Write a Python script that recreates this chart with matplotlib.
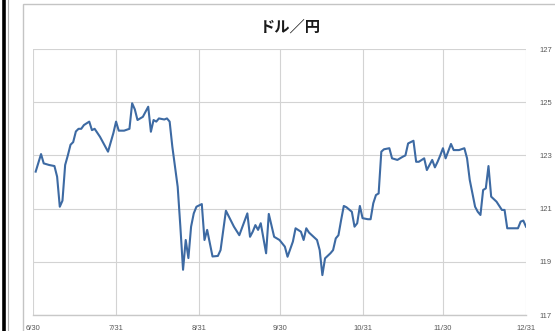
import numpy as np
import pandas as pd
import matplotlib
matplotlib.use("Agg")
import matplotlib.pyplot as plt
import matplotlib.dates as mdates
from matplotlib.lines import Line2D
from matplotlib.patches import Rectangle

plt.rcParams['font.family'] = ['Noto Sans CJK JP', 'DejaVu Sans']

# --- DATA ---
TITLE = "ドル／円"
START = "2015-06-30"
day_offsets = [1, 3, 4, 6, 8, 9, 10, 11, 12, 13, 14, 15, 16, 17, 18, 19, 21, 22, 23, 25,
               28, 30, 31, 32, 34, 36, 37, 38, 39, 41, 43, 44, 45, 46, 47, 49, 50, 51, 52, 54,
               55, 56, 57, 58, 59, 60, 61, 63, 64, 65, 67, 69, 70, 72, 75, 77, 80, 81, 82, 83,
               84, 85, 87, 88, 90, 92, 94, 95, 97, 98, 100, 101, 102, 103, 106, 107, 108, 109, 111, 112,
               113, 114, 115, 116, 117, 119, 120, 121, 122, 123, 125, 126, 127, 128, 129, 130, 131, 133, 134, 136,
               138, 139, 140, 142, 143, 144, 146, 147, 149, 150, 151, 152, 153, 154, 156, 157, 159, 161, 162, 163,
               165, 166, 167, 168, 169, 170, 171, 173, 175, 176, 177, 179, 181, 182, 183, 184]
usdjpy = [122.39, 123.05, 122.70, 122.64, 122.60, 122.20, 121.07, 121.30, 122.64, 123.00,
          123.40, 123.50, 123.90, 124.00, 124.00, 124.14, 124.27, 123.95, 124.00, 123.70,
          123.14, 123.84, 124.27, 123.93, 123.93, 124.00, 124.96, 124.73, 124.33, 124.45,
          124.83, 123.89, 124.33, 124.27, 124.39, 124.35, 124.39, 124.27, 123.33, 121.82,
          120.32, 118.70, 119.82, 119.14, 120.32, 120.82, 121.07, 121.17, 119.82, 120.20,
          119.20, 119.22, 119.44, 120.92, 120.32, 120.00, 120.82, 119.94, 120.13, 120.38,
          120.20, 120.45, 119.32, 120.80, 119.94, 119.82, 119.57, 119.19, 119.76, 120.26,
          120.13, 119.82, 120.26, 120.10, 119.82, 119.44, 118.50, 119.13, 119.32, 119.44,
          119.88, 120.00, 120.57, 121.10, 121.05, 120.88, 120.32, 120.45, 121.10, 120.64,
          120.60, 120.60, 121.20, 121.51, 121.57, 123.14, 123.23, 123.27, 122.89, 122.83,
          122.95, 123.00, 123.45, 123.55, 122.76, 122.76, 122.89, 122.45, 122.83, 122.55,
          122.76, 123.00, 123.27, 122.89, 123.43, 123.20, 123.20, 123.27, 122.89, 122.08,
          121.07, 120.88, 120.76, 121.70, 121.76, 122.60, 121.45, 121.26, 120.95, 120.95,
          120.26, 120.26, 120.26, 120.51, 120.55, 120.32]
x_ticks = ["2015-06-30", "2015-07-31", "2015-08-31", "2015-09-30",
           "2015-10-31", "2015-11-30", "2015-12-31"]
y_ticks = [117, 119, 121, 123, 125, 127]

dates = pd.Timestamp(START) + pd.to_timedelta(day_offsets, unit="D")
tick_dates = pd.to_datetime(x_ticks)

fig = plt.figure(figsize=(5.55, 3.31), dpi=100)
fig.patch.set_facecolor("white")

# chart frame and left edge bars
fig.add_artist(Rectangle((23 / 555, -0.1), 1.0, (331 - 4) / 331 + 0.1,
                         transform=fig.transFigure, fill=False,
                         edgecolor="#c4c4c4", linewidth=1.0))
fig.add_artist(Line2D([3.5 / 555, 3.5 / 555], [0, 1], transform=fig.transFigure,
                      color="black", linewidth=2.6))
fig.add_artist(Line2D([7.5 / 555, 7.5 / 555], [0, 1], transform=fig.transFigure,
                      color="#b0b0b0", linewidth=0.8))

ax = fig.add_axes([33 / 555, 16 / 331, 493 / 555, 266 / 331])
ax.plot(dates, usdjpy, color="#3d6aa3", linewidth=1.5, solid_joinstyle="round")

ax.set_xlim(tick_dates[0], tick_dates[-1])
ax.set_ylim(117, 127)
ax.set_xticks(tick_dates)
ax.set_xticklabels([f"{d.month}/{d.day}" for d in tick_dates])
ax.set_yticks(y_ticks)
ax.yaxis.tick_right()

ax.grid(True, color="#d3d3d3", linewidth=0.8)
ax.set_axisbelow(True)
for name, sp in ax.spines.items():
    sp.set_visible(False)
ax.axhline(117, color="#c8c8c8", linewidth=1.0, clip_on=False)

ax.tick_params(axis="both", length=0, labelsize=5.5, labelcolor="#595959")
ax.tick_params(axis="x", pad=7)
ax.tick_params(axis="y", pad=10)
for lbl in ax.get_xticklabels() + ax.get_yticklabels():
    lbl.set_fontfamily(["Liberation Sans", "DejaVu Sans"])

fig.text(290 / 555, 1 - 27 / 331, TITLE, ha="center", va="center",
         fontsize=11, fontweight="bold", color="#1a1a1a")

fig.savefig("out.png", dpi=100, facecolor="white")
